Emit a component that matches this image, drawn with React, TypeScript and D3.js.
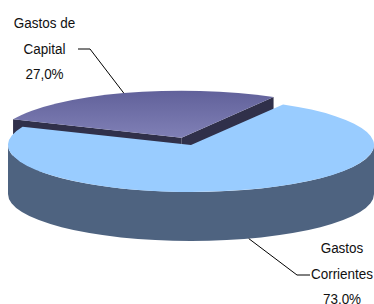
import * as d3 from 'd3';

const categories = ['Gastos Corrientes', 'Gastos de Capital'];
const values = [73.0, 27.0];
const labelLines = [
  ['Gastos', 'Corrientes', '73,0%'],
  ['Gastos de', 'Capital', '27,0%'],
];
const explode = [0, 30];

const W = 374;
const H = 304;
const cx = 191;
const cy = 145;
const rx = 183;
const ry = 47;
const depth = 49;
const startDeg = 30.2;

const topColors = ['#99CCFF', 'url(#capTop)'];
const sideColors = ['#4E6380', '#30304A'];

// label block anchors (centre x, first baseline) and leader elbows
const labelPos = [
  { x: 342, y: 253, elbow: [297, 275], end: [310, 275], onWall: true },
  { x: 44.5, y: 28, elbow: [90, 49], end: [78, 49], onWall: false },
];

type Pt = [number, number];

function pt(a: number, ox = 0, oy = 0): Pt {
  return [cx + ox + rx * Math.sin(a), cy + oy - ry * Math.cos(a)];
}

function arcTo(p: Pt, large: number, sweep: number) {
  return `A${rx},${ry} 0 ${large} ${sweep} ${p[0]},${p[1]}`;
}

export default function App() {
  const pie = d3
    .pie<number>()
    .sort(null)
    .startAngle((startDeg * Math.PI) / 180)
    .endAngle((startDeg * Math.PI) / 180 + 2 * Math.PI);
  const arcs = pie(values);

  const slices = arcs.map((d, i) => {
    const mid = (d.startAngle + d.endAngle) / 2;
    const ox = explode[i] * Math.sin(mid);
    const oy = -explode[i] * Math.cos(mid) * (ry / rx);
    const c: Pt = [cx + ox, cy + oy];
    const p0 = pt(d.startAngle, ox, oy);
    const p1 = pt(d.endAngle, ox, oy);
    const large = d.endAngle - d.startAngle > Math.PI ? 1 : 0;
    const top = `M${c[0]},${c[1]}L${p0[0]},${p0[1]}${arcTo(p1, large, 1)}Z`;

    // front wall: part of the slice lying in the lower half of the ellipse
    const walls: string[] = [];
    for (const k of [-1, 0, 1]) {
      const lo = Math.max(d.startAngle, Math.PI / 2 + 2 * Math.PI * k);
      const hi = Math.min(d.endAngle, (3 * Math.PI) / 2 + 2 * Math.PI * k);
      if (hi > lo) {
        const a = pt(lo, ox, oy);
        const b = pt(hi, ox, oy);
        walls.push(
          `M${a[0]},${a[1]}${arcTo(b, 0, 1)}L${b[0]},${b[1] + depth}${arcTo(
            [a[0], a[1] + depth],
            0,
            0
          )}Z`
        );
      }
    }

    // cut faces (only seen on the exploded slice)
    const cuts = explode[i] > 0
      ? [p0, p1].map(
          (p) =>
            `M${c[0]},${c[1]}L${p[0]},${p[1]}L${p[0]},${p[1] + depth}L${c[0]},${c[1] + depth}Z`
        )
      : [];

    const rim = pt(mid, ox, oy);
    return { i, top, walls, cuts, rim };
  });

  // exploded slice sits behind, so draw it first
  const order = [...slices].sort((a, b) => explode[b.i] - explode[a.i]);

  return (
    <svg
      width={W}
      height={H}
      style={{ position: 'absolute', left: 0, top: 0, background: '#fff' }}
      fontFamily="'Liberation Sans', Arial, sans-serif"
    >
      <defs>
        <linearGradient id="capTop" x1="0" y1="0" x2="0" y2="1">
          <stop offset="0" stopColor="#61619A" />
          <stop offset="1" stopColor="#8080B6" />
        </linearGradient>
      </defs>
      {order.map((s) => (
        <g key={categories[s.i]}>
          {s.cuts.map((p, j) => (
            <path key={'c' + j} d={p} fill={sideColors[s.i]} />
          ))}
          {s.walls.map((p, j) => (
            <path key={'w' + j} d={p} fill={sideColors[s.i]} />
          ))}
          <path d={s.top} fill={topColors[s.i]} />
        </g>
      ))}
      {labelPos.map((lp, i) => {
        const s = slices[i];
        const anchor: Pt = lp.onWall ? [s.rim[0], s.rim[1] + depth] : s.rim;
        return (
          <g key={'l' + i}>
            <polyline
              points={`${anchor[0]},${anchor[1]} ${lp.elbow[0]},${lp.elbow[1]} ${lp.end[0]},${lp.end[1]}`}
              fill="none"
              stroke="#000"
              strokeWidth={1}
            />
            {labelLines[i].map((t, j) => (
              <text
                key={j}
                transform={`translate(${lp.x},${lp.y + j * 25.5}) scale(0.87,1)`}
                textAnchor="middle"
                fontSize={15.5}
                fill="#111"
              >
                {t}
              </text>
            ))}
          </g>
        );
      })}
    </svg>
  );
}
